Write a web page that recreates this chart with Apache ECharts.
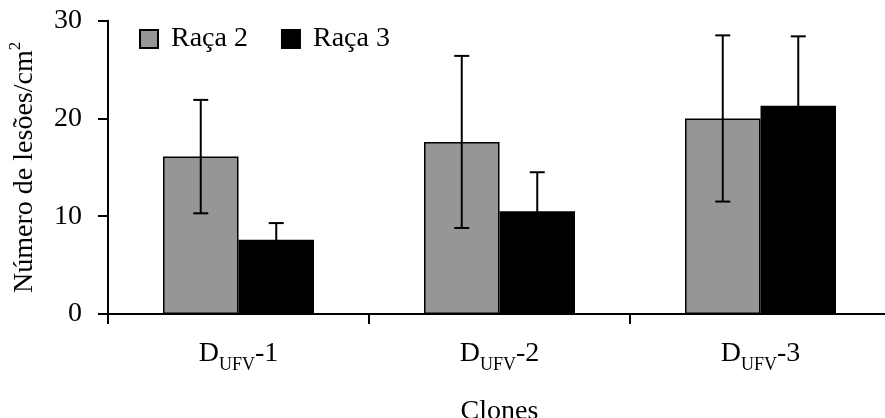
<!DOCTYPE html>
<html>
<head>
<meta charset="utf-8">
<script src="https://cdn.jsdelivr.net/npm/echarts@6/dist/echarts.min.js"></script>
<style>html,body{margin:0;padding:0;background:#fff}#c{width:885px;height:418px}</style>
</head>
<body>
<div id="c"></div>
<script>
var categories = ['1', '2', '3'];
var raca2 = [16.1, 17.6, 20.0];
var raca2Err = [5.8, 8.8, 8.5];
var raca3 = [7.6, 10.5, 21.3];
var raca3Err = [1.7, 4.0, 7.1];
var yTicks = [0, 10, 20, 30];

var FONT = 'Liberation Serif';
var BAR_W = 75.5;
var FS = 28;

function errSeries(vals, errs, side) {
  return {
    type: 'custom',
    silent: true,
    z: 5,
    data: vals.map(function (v, i) { return [i, v, errs[i]]; }),
    renderItem: function (params, api) {
      var i = api.value(0), v = api.value(1), e = api.value(2);
      var c = api.coord([i, v]);
      var x = c[0] + side * BAR_W / 2;
      var top = api.coord([i, v + e])[1];
      var bot = api.coord([i, v - e])[1];
      var cap = 7.5;
      var st = { stroke: '#000', lineWidth: 2 };
      return {
        type: 'group',
        children: [
          { type: 'line', shape: { x1: x, y1: top, x2: x, y2: bot }, style: st },
          { type: 'line', shape: { x1: x - cap, y1: top, x2: x + cap, y2: top }, style: st },
          { type: 'line', shape: { x1: x - cap, y1: bot, x2: x + cap, y2: bot }, style: st }
        ]
      };
    }
  };
}

var chart = echarts.init(document.getElementById('c'));
chart.setOption({
  backgroundColor: '#fff',
  animation: false,
  textStyle: { fontFamily: FONT, color: '#000' },
  grid: { left: 108, right: -6, top: 20.7, bottom: 104, containLabel: false, outerBoundsMode: 'none' },
  legend: {
    left: 139, top: 25, padding: 0,
    icon: 'rect',
    itemWidth: 18, itemHeight: 18, itemGap: 33,
    textStyle: { fontFamily: FONT, fontSize: FS, color: '#000', padding: [0, 0, 0, 8] },
    data: ['Raça 2', 'Raça 3']
  },
  xAxis: {
    type: 'category',
    data: categories,
    name: 'Clones',
    nameLocation: 'middle',
    nameGap: 84,
    nameTextStyle: { fontFamily: FONT, fontSize: FS, color: '#000' },
    axisLine: { lineStyle: { color: '#000', width: 2 } },
    axisTick: { show: true, alignWithLabel: false, length: 10, lineStyle: { color: '#000', width: 2 } },
    axisLabel: {
      margin: 26,
      formatter: function (v) { return 'D{sub|UFV}-' + v; },
      fontFamily: FONT, fontSize: FS, color: '#000',
      rich: {
        sub: { fontFamily: FONT, fontSize: 18, color: '#000', verticalAlign: 'bottom', padding: [0, 0, -6, 0] }
      }
    }
  },
  yAxis: {
    type: 'value',
    min: 0, max: 30, interval: 10,
    name: 'Número de lesões/cm{sup|2}',
    nameLocation: 'middle',
    nameGap: 69,
    nameTextStyle: {
      fontFamily: FONT, fontSize: FS, color: '#000',
      rich: { sup: { fontFamily: FONT, fontSize: 17, color: '#000', verticalAlign: 'top', padding: [-4, 0, 0, 0] } }
    },
    splitLine: { show: false },
    axisLine: { show: true, lineStyle: { color: '#000', width: 2 } },
    axisTick: { show: true, length: 10, lineStyle: { color: '#000', width: 2 } },
    axisLabel: {
      margin: 26,
      fontFamily: FONT, fontSize: FS, color: '#000',
      formatter: function (v) { return yTicks.indexOf(v) >= 0 ? String(v) : ''; }
    }
  },
  series: [
    {
      name: 'Raça 2', type: 'bar', data: raca2,
      barWidth: BAR_W, barGap: '0%',
      itemStyle: { color: '#969696', borderColor: '#000', borderWidth: 1.5 }
    },
    {
      name: 'Raça 3', type: 'bar', data: raca3,
      barWidth: BAR_W, barGap: '0%',
      itemStyle: { color: '#000', borderColor: '#000', borderWidth: 1.5 }
    },
    errSeries(raca2, raca2Err, -1),
    errSeries(raca3, raca3Err, 1)
  ]
});
</script>
</body>
</html>
